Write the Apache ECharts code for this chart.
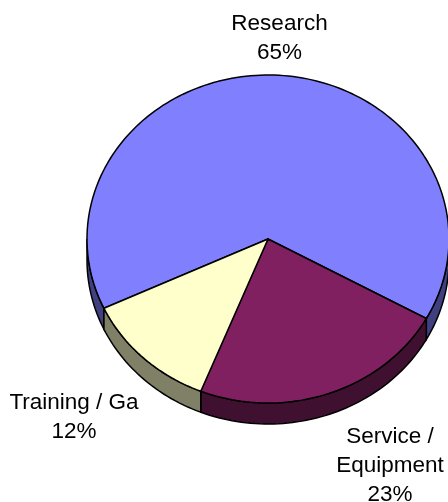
<!DOCTYPE html>
<html>
<head>
<meta charset="utf-8">
<style>
html, body { margin: 0; padding: 0; background: #fff; }
#chart { width: 448px; height: 502px; }
</style>
<script src="https://cdn.jsdelivr.net/npm/echarts@6/dist/echarts.min.js"></script>
</head>
<body>
<div id="chart"></div>
<script>
var categories = ['Research', 'Service /\nEquipment', 'Training / Ga'];
var shares = [65, 23, 12];
var topColors = ['#8080ff', '#802060', '#ffffcc'];
var sideColors = ['#404080', '#401030', '#808066'];
var labelCenters = [[279.5, 38.5], [390, 466], [74, 417]];

// pie geometry, angles are clockwise from 3 o'clock on the ellipse
var cx = 268, cy = 239, rx = 181, ry = 164, depth = 21;
var startAngle = 155;

var total = shares.reduce(function (a, b) { return a + b; }, 0);

function arcPoints(from, to, dy) {
    var pts = [];
    var steps = Math.max(2, Math.ceil((to - from) / 1.5));
    for (var i = 0; i <= steps; i++) {
        var t = (from + (to - from) * i / steps) * Math.PI / 180;
        pts.push([cx + rx * Math.cos(t), cy + ry * Math.sin(t) + dy]);
    }
    return pts;
}

function sidePolygon(from, to, color) {
    return {
        type: 'polygon',
        shape: { points: arcPoints(from, to, 0).concat(arcPoints(from, to, depth).reverse()) },
        style: { fill: color, stroke: '#000', lineWidth: 1.5 }
    };
}

function renderSlice(params, api) {
    var i = params.dataIndex;
    var before = 0;
    for (var k = 0; k < i; k++) before += shares[k];
    var from = startAngle + before / total * 360;
    var to = from + api.value(0) / total * 360;
    var children = [];

    // only the front half of the rim shows
    [0, 360].forEach(function (offset) {
        var a = Math.max(from, offset);
        var b = Math.min(to, offset + 180);
        if (b > a) children.push(sidePolygon(a, b, sideColors[i]));
    });

    children.push({
        type: 'polygon',
        shape: { points: [[cx, cy]].concat(arcPoints(from, to, 0)) },
        style: { fill: topColors[i], stroke: '#000', lineWidth: 1.5, lineJoin: 'round' }
    });
    children.push({
        type: 'text',
        x: labelCenters[i][0],
        y: labelCenters[i][1],
        style: {
            text: categories[i] + '\n' + api.value(0) + '%',
            fill: '#000',
            fontFamily: '"Liberation Sans", Arial, sans-serif',
            fontSize: 22.5,
            lineHeight: 29,
            align: 'center',
            verticalAlign: 'middle'
        }
    });
    return { type: 'group', children: children };
}

var chart = echarts.init(document.getElementById('chart'), null, { renderer: 'canvas' });
chart.setOption({
    animation: false,
    backgroundColor: '#ffffff',
    series: [{
        type: 'custom',
        coordinateSystem: 'none',
        renderItem: renderSlice,
        data: shares.map(function (v, i) { return { name: categories[i], value: [v] }; })
    }]
});
</script>
</body>
</html>
